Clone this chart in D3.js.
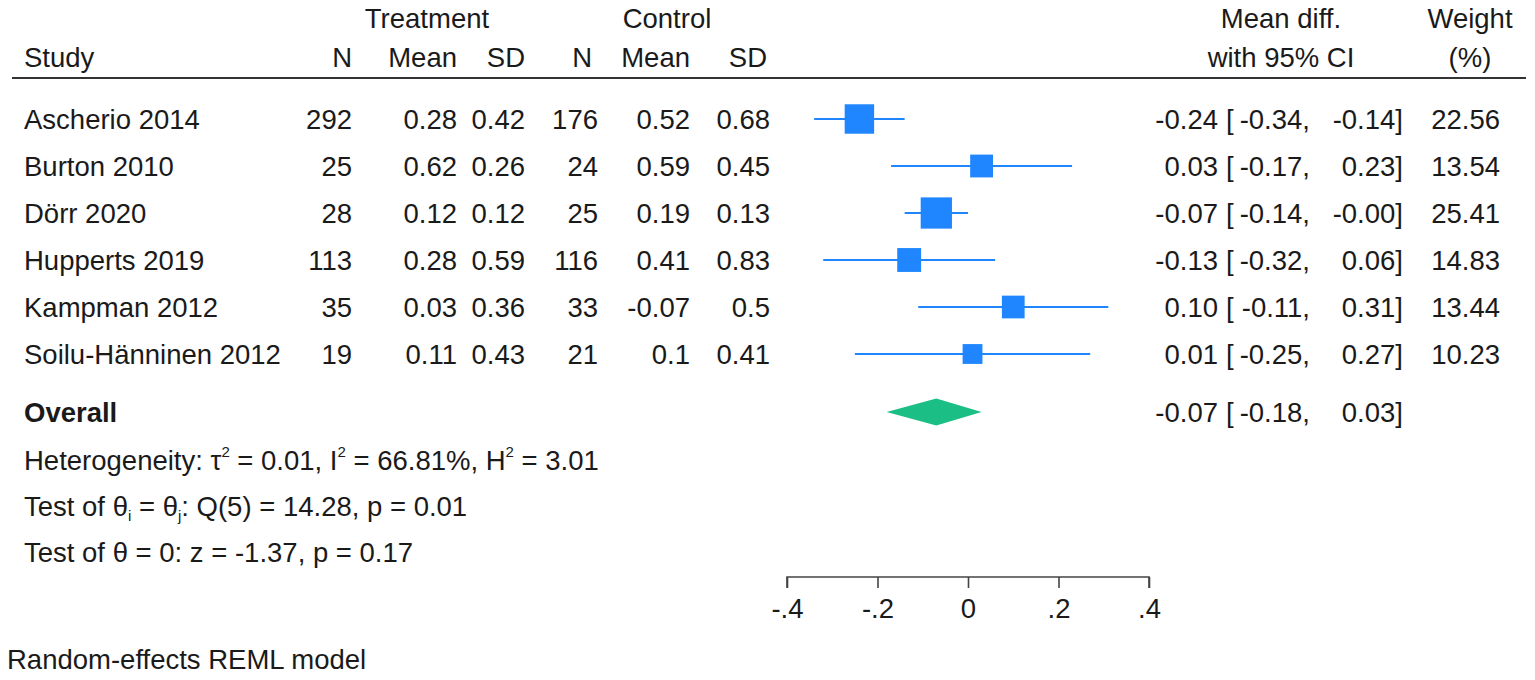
<!DOCTYPE html>
<html>
<head>
<meta charset="utf-8">
<script src="https://cdn.jsdelivr.net/npm/d3@7"></script>
<style>
  html, body { margin: 0; padding: 0; background: #fff; }
  svg text { font-family: "Liberation Sans", Arial, sans-serif; fill: #1a1a1a; }
</style>
</head>
<body>
<svg id="chart" width="1535" height="680"></svg>
<script>
const studies = ["Ascherio 2014", "Burton 2010", "Dörr 2020", "Hupperts 2019", "Kampman 2012", "Soilu-Hänninen 2012"];
const tN    = [292, 25, 28, 113, 35, 19];
const tMean = [0.28, 0.62, 0.12, 0.28, 0.03, 0.11];
const tSD   = [0.42, 0.26, 0.12, 0.59, 0.36, 0.43];
const cN    = [176, 24, 25, 116, 33, 21];
const cMean = [0.52, 0.59, 0.19, 0.41, -0.07, 0.1];
const cSD   = [0.68, 0.45, 0.13, 0.83, 0.5, 0.41];
const est   = [-0.24, 0.03, -0.07, -0.13, 0.10, 0.01];
const lo    = [-0.34, -0.17, -0.14, -0.32, -0.11, -0.25];
const hi    = [-0.14, 0.23, -0.00, 0.06, 0.31, 0.27];
const weight = [22.56, 13.54, 25.41, 14.83, 13.44, 10.23];
const overall = { est: -0.07, lo: -0.18, hi: 0.03 };
const xTicks = [-0.4, -0.2, 0, 0.2, 0.4];
const xTickLabels = ["-.4", "-.2", "0", ".2", ".4"];

const svg = d3.select("#chart");
const FS = 27.5;
const blue = "#1f86ff";
const green = "#1bbf86";

const x = d3.scaleLinear().domain([-0.4, 0.4]).range([787, 1149]);
const y = d3.scalePoint().domain(d3.range(studies.length)).range([119, 354]);
const overallY = 412;
const size = d3.scaleSqrt().domain([0, 100]).range([0, 62]);

const fmt2 = v => (Object.is(v, -0) || (v < 0 && v > -0.005)) ? "-0.00" : v.toFixed(2);
const txt = (xx, yy, s, anchor = "start", extra = {}) => {
  const t = svg.append("text").attr("x", xx).attr("y", yy).attr("font-size", FS)
    .attr("text-anchor", anchor).text(s);
  for (const k in extra) t.attr(k, extra[k]);
  return t;
};

// Headers
txt(427, 28, "Treatment", "middle");
txt(667, 28, "Control", "middle");
txt(1281, 28, "Mean diff.", "middle");
txt(1470, 28, "Weight", "middle");
txt(24, 67, "Study");
txt(352, 67, "N", "end");
txt(457, 67, "Mean", "end");
txt(525, 67, "SD", "end");
txt(592, 67, "N", "end");
txt(690, 67, "Mean", "end");
txt(767, 67, "SD", "end");
txt(1281, 67, "with 95% CI", "middle");
txt(1470, 67, "(%)", "middle");

svg.append("line").attr("x1", 12).attr("x2", 1526).attr("y1", 78).attr("y2", 78)
  .attr("stroke", "#333").attr("stroke-width", 2);

// Rows
studies.forEach((s, i) => {
  const yy = y(i) + 9.5;
  txt(24, yy, s);
  txt(352, yy, String(tN[i]), "end");
  txt(457, yy, String(tMean[i]), "end");
  txt(525, yy, String(tSD[i]), "end");
  txt(598, yy, String(cN[i]), "end");
  txt(690, yy, String(cMean[i]), "end");
  txt(770, yy, String(cSD[i]), "end");
  txt(1218, yy, fmt2(est[i]), "end");
  txt(1226, yy, "[");
  txt(1310, yy, fmt2(lo[i]) + ",", "end");
  txt(1403, yy, fmt2(hi[i]) + "]", "end");
  txt(1500, yy, weight[i].toFixed(2), "end");
});

// CI lines and boxes
const g = svg.append("g");
g.selectAll("line.ci").data(studies.map((s, i) => i)).join("line")
  .attr("class", "ci")
  .attr("x1", i => x(lo[i])).attr("x2", i => x(hi[i]))
  .attr("y1", i => y(i)).attr("y2", i => y(i))
  .attr("stroke", blue).attr("stroke-width", 2);
g.selectAll("rect.box").data(studies.map((s, i) => i)).join("rect")
  .attr("class", "box")
  .attr("x", i => x(est[i]) - size(weight[i]) / 2)
  .attr("y", i => y(i) - size(weight[i]) / 2)
  .attr("width", i => size(weight[i]))
  .attr("height", i => size(weight[i]))
  .attr("fill", blue);

// Overall
txt(24, overallY + 9.5, "Overall", "start", { "font-weight": "bold" });
txt(1218, overallY + 9.5, fmt2(overall.est), "end");
txt(1226, overallY + 9.5, "[");
txt(1310, overallY + 9.5, fmt2(overall.lo) + ",", "end");
txt(1403, overallY + 9.5, fmt2(overall.hi) + "]", "end");
const dh = 13.5;
svg.append("path")
  .attr("d", `M${x(overall.lo)},${overallY} L${x(overall.est)},${overallY - dh} L${x(overall.hi)},${overallY} L${x(overall.est)},${overallY + dh} Z`)
  .attr("fill", green);

// Heterogeneity text
const sup = (t, s) => t.append("tspan").attr("font-size", 15).attr("dy", -13).text(s);
const back = (t, s, dy) => t.append("tspan").attr("dy", dy).text(s);
let h = txt(24, 470, "");
h.append("tspan").text("Heterogeneity: τ");
sup(h, "2"); back(h, " = 0.01, I", 13);
sup(h, "2"); back(h, " = 66.81%, H", 13);
sup(h, "2"); back(h, " = 3.01", 13);

let t2 = txt(24, 516, "");
t2.append("tspan").text("Test of θ");
t2.append("tspan").attr("font-size", 15).attr("dy", 5).text("i");
t2.append("tspan").attr("dy", -5).text(" = θ");
t2.append("tspan").attr("font-size", 15).attr("dy", 5).text("j");
t2.append("tspan").attr("dy", -5).text(": Q(5) = 14.28, p = 0.01");

txt(24, 562, "Test of θ = 0: z = -1.37, p = 0.17");

// Axis
const axis = d3.axisBottom(x).tickValues(xTicks).tickSize(11).tickPadding(10)
  .tickFormat((d, i) => xTickLabels[i]);
const ag = svg.append("g").attr("transform", "translate(0,577)").call(axis);
ag.select(".domain").attr("stroke", "#444").attr("stroke-width", 1.6)
  .attr("d", `M${x(-0.4)},11V0H${x(0.4)}V11`);
ag.selectAll(".tick line").attr("stroke", "#444").attr("stroke-width", 1.6);
ag.selectAll(".tick text").attr("font-size", FS).attr("fill", "#1a1a1a")
  .attr("font-family", "Liberation Sans, Arial, sans-serif");

txt(7, 669, "Random-effects REML model");
</script>
</body>
</html>
